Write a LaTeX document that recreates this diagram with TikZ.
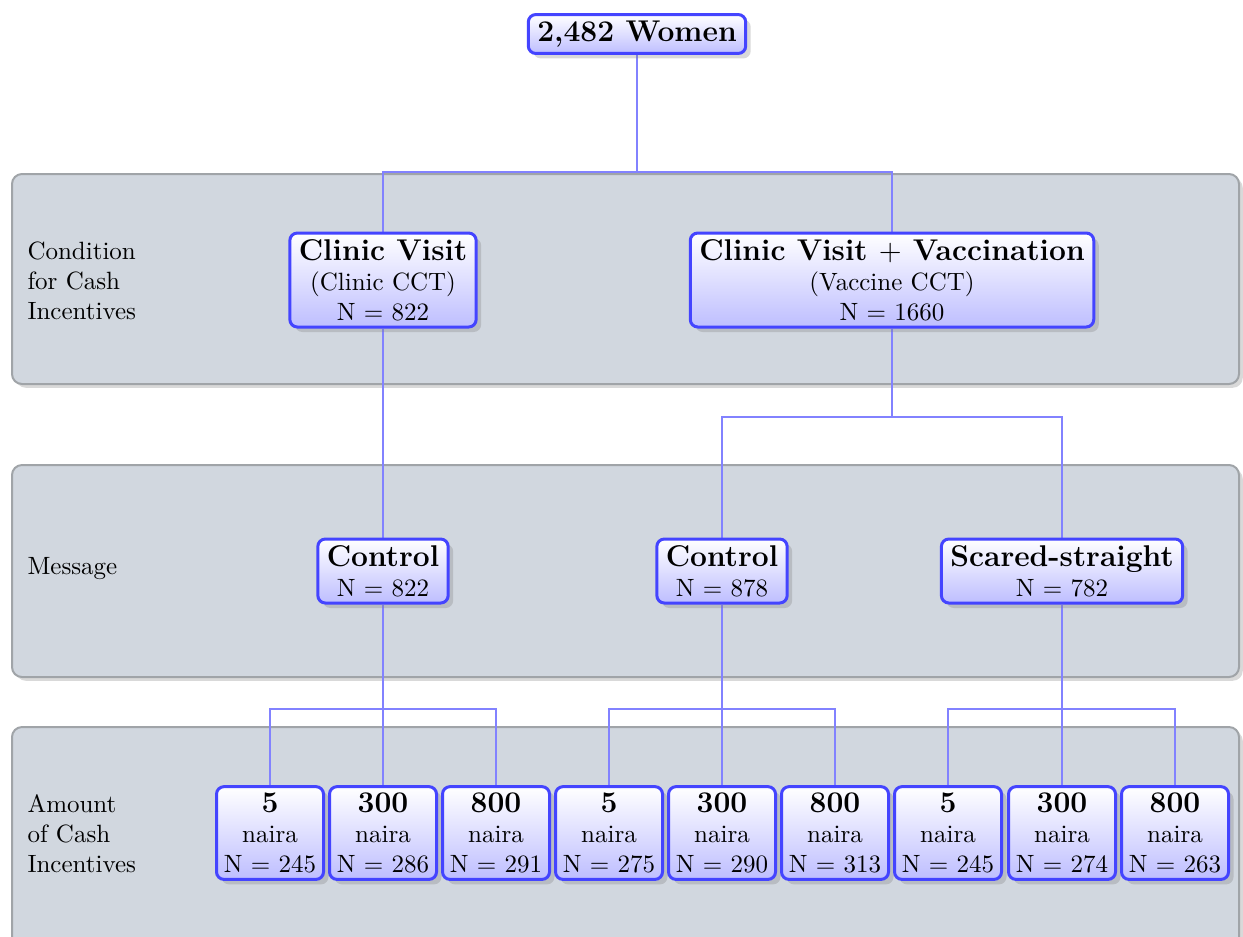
\documentclass[tikz,border=0pt]{standalone}
\usetikzlibrary{shadows,calc}
\definecolor{bandfill}{RGB}{209,215,223}
\definecolor{bandline}{RGB}{160,164,168}
\definecolor{boxline}{RGB}{68,68,255}
\definecolor{edgecol}{RGB}{130,130,255}
\definecolor{boxbottom}{RGB}{190,190,255}
\pgfdeclarelayer{bands}
\pgfdeclarelayer{edges}
\pgfsetlayers{bands,edges,main}
\begin{document}
\begin{tikzpicture}[x=0.4pt,y=-0.4pt,
  box/.style={draw=boxline, line width=1.2pt, rounded corners=3pt, top color=white, bottom color=boxbottom,
    drop shadow={opacity=0.3,shadow xshift=2pt,shadow yshift=-2pt}, align=center, inner ysep=2.5pt, inner xsep=3.6pt},
  leaf/.style={box, minimum width=42.8pt, inner xsep=1pt},
  band/.style={fill=bandfill, draw=bandline, line width=0.8pt, rounded corners=4pt,
    drop shadow={opacity=0.3,shadow xshift=1.5pt,shadow yshift=-1.5pt}},
  edge/.style={draw=edgecol, line width=1pt},
  rowlabel/.style={anchor=west, align=left, inner sep=0pt}]
\useasboundingbox (0,0) rectangle (1243,936);
\clip (0,0) rectangle (1243,936);

% nodes
\node[box] (top) at (637,34) {\large\bfseries 2,482 Women};

\node[box] (cv) at (383,280) {{\large\bfseries Clinic Visit}\\(Clinic CCT)\\N $=$ 822};
\node[box] (cvv) at (892,280) {{\large\bfseries Clinic Visit $+$ Vaccination}\\(Vaccine CCT)\\N $=$ 1660};

\node[box] (c1) at (383,571) {{\large\bfseries Control}\\N $=$ 822};
\node[box] (c2) at (722,571) {{\large\bfseries Control}\\N $=$ 878};
\node[box] (ss) at (1062,571) {{\large\bfseries Scared-straight}\\N $=$ 782};

\node[leaf] (a1) at (270,833) {{\large\bfseries 5}\\naira\\N $=$ 245};
\node[leaf] (a2) at (383,833) {{\large\bfseries 300}\\naira\\N $=$ 286};
\node[leaf] (a3) at (496,833) {{\large\bfseries 800}\\naira\\N $=$ 291};
\node[leaf] (b1) at (609,833) {{\large\bfseries 5}\\naira\\N $=$ 275};
\node[leaf] (b2) at (722,833) {{\large\bfseries 300}\\naira\\N $=$ 290};
\node[leaf] (b3) at (835,833) {{\large\bfseries 800}\\naira\\N $=$ 313};
\node[leaf] (d1) at (948,833) {{\large\bfseries 5}\\naira\\N $=$ 245};
\node[leaf] (d2) at (1062,833) {{\large\bfseries 300}\\naira\\N $=$ 274};
\node[leaf] (d3) at (1175,833) {{\large\bfseries 800}\\naira\\N $=$ 263};

% row labels
\node[rowlabel] (l1) at (27,281) {Condition\\for Cash\\Incentives};
\node[rowlabel] (l2) at (27,569) {Message};
\node[rowlabel] (l3) at (27,834) {Amount\\of Cash\\Incentives};

\coordinate (f1) at (637,172);
\coordinate (f2) at (892,417);
\coordinate (f3) at (383,709);

% edges
\begin{pgfonlayer}{edges}
\draw[edge] (top.south) -- (top.south |- f1) -| (cv.north);
\draw[edge] (top.south |- f1) -| (cvv.north);
\draw[edge] (cv.south) -- (c1.north);
\draw[edge] (cvv.south) -- (cvv.south |- f2) -| (c2.north);
\draw[edge] (cvv.south |- f2) -| (ss.north);
\draw[edge] (c1.south) -- (a2.north);
\draw[edge] (c1.south |- f3) -| (a1.north);
\draw[edge] (c1.south |- f3) -| (a3.north);
\draw[edge] (c2.south) -- (b2.north);
\draw[edge] (c2.south |- f3) -| (b1.north);
\draw[edge] (c2.south |- f3) -| (b3.north);
\draw[edge] (ss.south) -- (d2.north);
\draw[edge] (ss.south |- f3) -| (d1.north);
\draw[edge] (ss.south |- f3) -| (d3.north);
\end{pgfonlayer}

% bands
\begin{pgfonlayer}{bands}
\path[band] (12,174) rectangle (1239,384);
\path[band] (12,465) rectangle (1239,677);
\path[band] (12,727) rectangle (1239,980);
\end{pgfonlayer}
\end{tikzpicture}
\end{document}
